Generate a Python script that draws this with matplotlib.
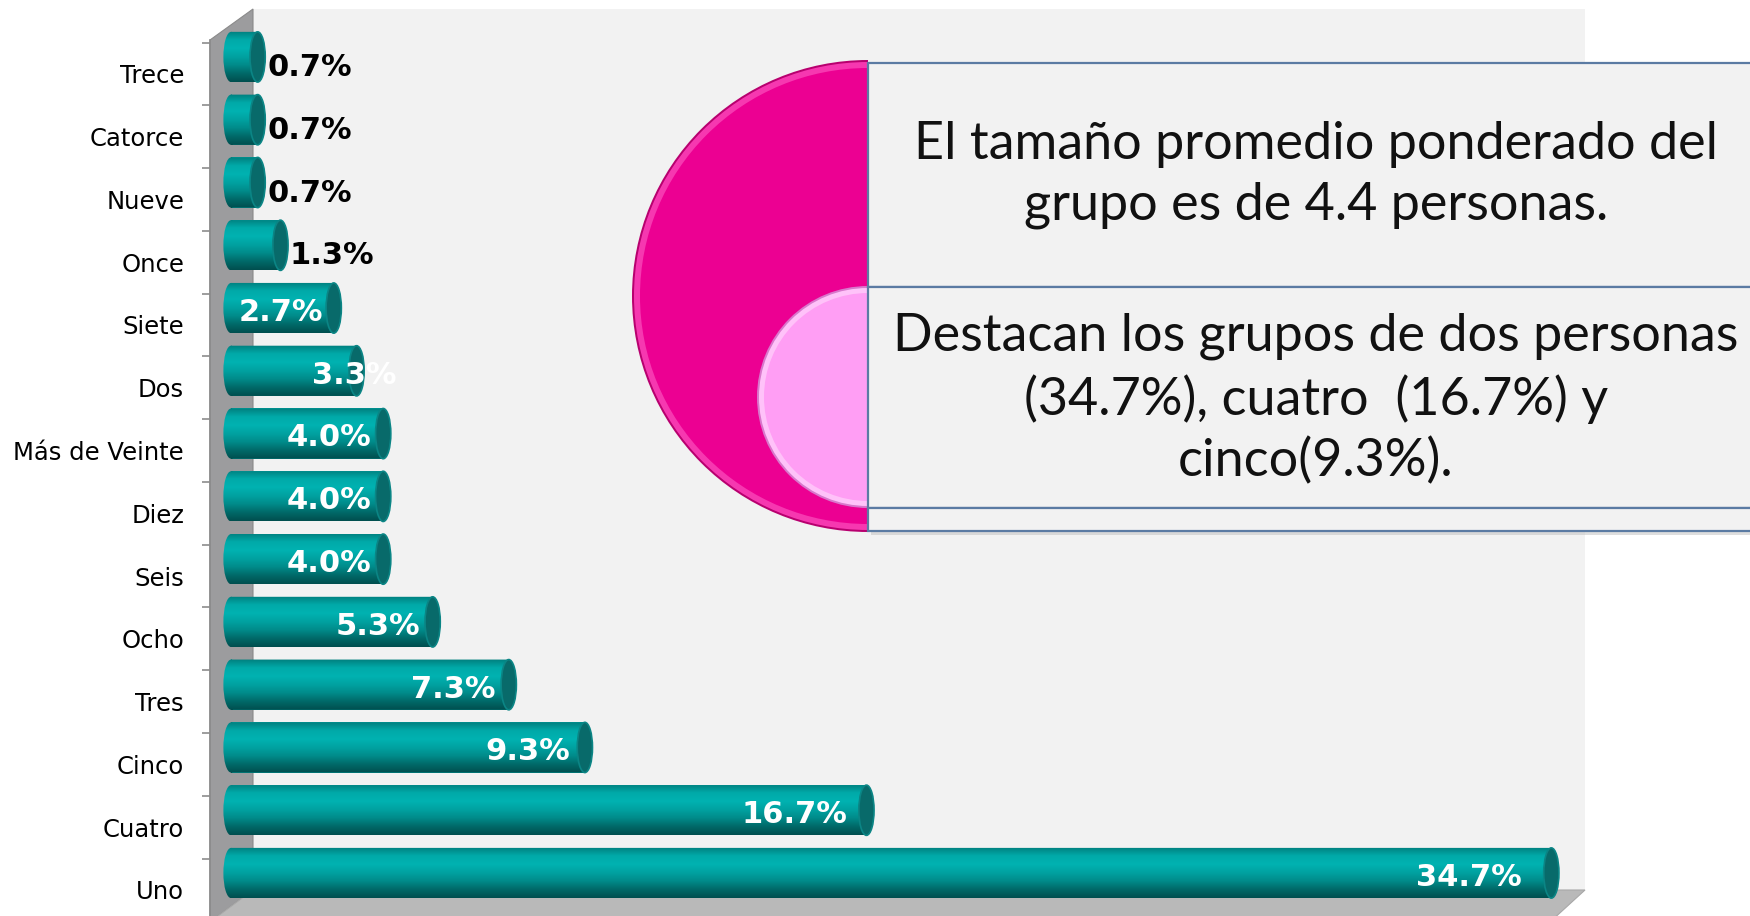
import matplotlib
matplotlib.use("Agg")
import matplotlib.pyplot as plt
import numpy as np
from matplotlib.patches import Polygon, Rectangle, Wedge, Ellipse, PathPatch
from matplotlib.path import Path
from matplotlib.transforms import Affine2D
from matplotlib.colors import LinearSegmentedColormap


# data (bottom to top)
categories = ["Uno", "Cuatro", "Cinco", "Tres", "Ocho", "Seis", "Diez",
              "Más de Veinte", "Dos", "Siete", "Once", "Nueve", "Catorce", "Trece"]
values = [34.7, 16.7, 9.3, 7.3, 5.3, 4.0, 4.0, 4.0, 3.3, 2.7, 1.3, 0.7, 0.7, 0.7]
label_nudge = {"Dos": 1.35}

note_top = "El tamaño promedio ponderado del\ngrupo es de 4.4 personas."
note_bottom = "Destacan los grupos de dos personas\n(34.7%), cuatro  (16.7%) y\ncinco(9.3%)."

W, H = 1750, 916
fig = plt.figure(figsize=(W / 100, H / 100), dpi=100)
fig.patch.set_facecolor("white")

# background in pixel coords: 3d walls, pink shapes, text boxes
bg = fig.add_axes([0, 0, 1, 1], zorder=0)
bg.set_xlim(0, W)
bg.set_ylim(H, 0)
bg.axis("off")

bg.add_patch(Rectangle((253, 9), 1585 - 253, 890 - 9, facecolor="#f2f2f2", edgecolor="none"))
bg.add_patch(Polygon([(210, 40), (253, 9), (253, 890), (210, 922)],
                     facecolor="#9c9c9e", edgecolor="#8a8a8a", lw=0.8))
bg.add_patch(Polygon([(210, 922), (253, 890), (1585, 890), (1550, 922)],
                     facecolor="#b9b9b9", edgecolor="#a8a8a8", lw=0.8))

# pink half discs
cx = 868
bg.add_patch(Wedge((cx, 296), 236, 90, 270, facecolor="#b8006f", edgecolor="none", zorder=2))
bg.add_patch(Wedge((cx, 296), 234, 90, 270, facecolor="#f638b0", edgecolor="none", zorder=2))
bg.add_patch(Wedge((cx, 296), 228, 90, 270, facecolor="#ec0092", edgecolor="none", zorder=2))
bg.add_patch(Wedge((cx, 397), 111, 90, 270, facecolor="#d878cc", edgecolor="none", zorder=3))
bg.add_patch(Wedge((cx, 397), 109, 90, 270, facecolor="#ffc2f9", edgecolor="none", zorder=3))
bg.add_patch(Wedge((cx, 397), 104, 90, 270, facecolor="#ff9ef4", edgecolor="none", zorder=3))

# boxes
for top, bot in [(63, 287), (287, 508), (508, 531)]:
    bg.add_patch(Rectangle((cx + 3, top + 4), 1000, bot - top, facecolor="#c8c8c8",
                           edgecolor="none", alpha=0.6, zorder=4))
    bg.add_patch(Rectangle((cx, top), 1000, bot - top, facecolor="#f2f2f2",
                           edgecolor="#5b7ba3", lw=1.6, zorder=5))

bg.text(1316, 175, note_top, ha="center", va="center", fontsize=37.5, family="Lato",
        linespacing=1.33, color="#111111", zorder=6)
bg.text(1316, 399, note_bottom, ha="center", va="center", fontsize=37.5, family="Lato",
        linespacing=1.33, color="#111111", zorder=6)

# bar axes
ax = fig.add_axes([210 / W, 0, 1375 / W, 907 / H], zorder=1)
ax.set_facecolor("none")
pos = np.arange(len(categories))
bar_h = 0.8
cap_w = 0.4

bars = ax.barh(pos, values, height=bar_h, color="#00a0a0", zorder=2)

teal = LinearSegmentedColormap.from_list(
    "teal", ["#00807f", "#00aaa9", "#00b2b1", "#00a2a1", "#008b8a", "#006a69", "#004f4f"])
grad = np.linspace(0, 1, 64)[:, None]

for bar, v in zip(bars, values):
    x0, y0, w, h = bar.get_x(), bar.get_y(), bar.get_width(), bar.get_height()
    yc = y0 + h / 2
    rect_path = bar.get_patch_transform().transform_path(bar.get_path())
    end_path = Affine2D().scale(cap_w / 2, h / 2).translate(x0, yc).transform_path(Path.unit_circle())
    clip = PathPatch(Path.make_compound_path(rect_path, end_path), transform=ax.transData,
                     facecolor="none", edgecolor="none")
    ax.add_patch(clip)
    im = ax.imshow(grad, extent=[x0 - cap_w / 2, x0 + w, y0, y0 + h], origin="upper",
                   aspect="auto", cmap=teal, zorder=3, interpolation="bilinear")
    im.set_clip_path(clip)
    ax.add_patch(Ellipse((x0 + w, yc), cap_w, h, facecolor="#086a6a",
                         edgecolor="#0b8585", lw=1.2, zorder=4))

for cat, p, v in zip(categories, pos, values):
    txt = f"{v:.1f}%"
    if v < 2:
        ax.text(v + 0.25, p - 0.17, txt, ha="left", va="center", fontsize=22,
                fontweight="bold", color="black", zorder=5)
    else:
        xr = v - 0.25 - 0.015 * v + label_nudge.get(cat, 0)
        ax.text(xr, p - 0.07, txt, ha="right", va="center", fontsize=22,
                fontweight="bold", color="white", zorder=5)

ax.set_xlim(-21 / 38.05, 1354 / 38.05)
ax.set_ylim(-0.685, 13.764)

ax.set_yticks(pos - 0.27)
ax.set_yticklabels(categories, fontsize=17.5)
ax.tick_params(axis="y", which="major", length=0, pad=18.7)
ax.set_yticks(pos + 0.23, minor=True)
ax.tick_params(axis="y", which="minor", length=5.8, width=1.2, color="#8c8c8c")
ax.set_xticks([])

for s in ["top", "right", "bottom"]:
    ax.spines[s].set_visible(False)
ax.spines["left"].set_color("#8c8c8c")
ax.spines["left"].set_linewidth(1.2)
ax.spines["left"].set_bounds(-0.685, 13.27)

fig.savefig("out.png", dpi=100)
